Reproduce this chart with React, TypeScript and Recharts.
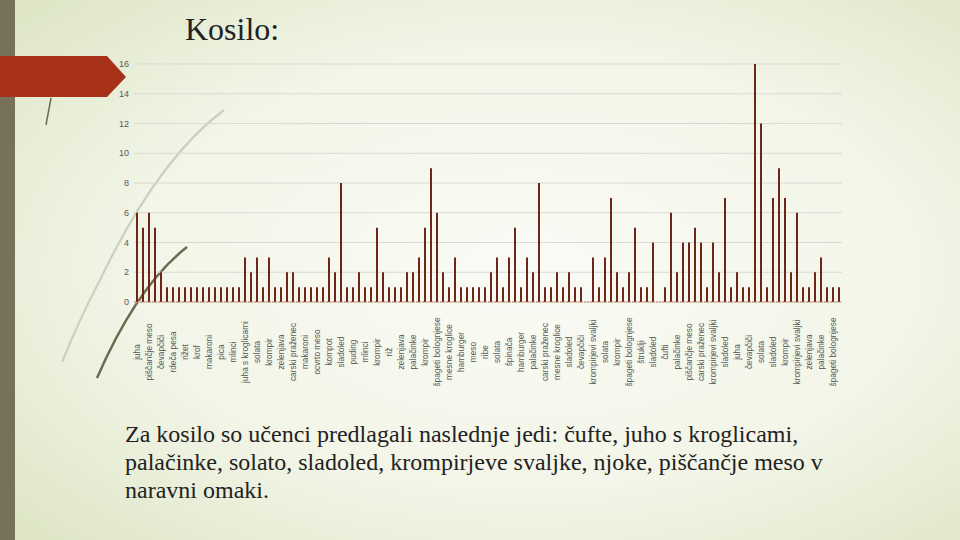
import React from "react";
import { BarChart, Bar, XAxis, YAxis, CartesianGrid } from "recharts";

// Visible category labels (every other category is labelled on the axis)
const shownLabels: string[] = [
  "juha", "piščančje meso", "čevapčiči", "rdeča pesa", "rižet", "krof", "makaroni", "pica",
  "mlinci", "juha s kroglicami", "solata", "krompir", "zelenjava", "carski praženec",
  "makaroni", "ocvrto meso", "kompot", "sladoled", "puding", "mlinci", "krompir", "riž",
  "zelenjava", "palačinke", "krompir", "špageti bolognjese", "mesne kroglice", "hamburger",
  "meso", "ribe", "solata", "špinača", "hamburger", "palačinke", "carski praženec",
  "mesne kroglice", "sladoled", "čevapčiči", "krompirjevi svaljki", "solata", "krompir",
  "špageti bolognjese", "štruklji", "sladoled", "čufti", "palačinke", "piščančje meso",
  "carski praženec", "krompirjevi svaljki", "sladoled", "juha", "čevapčiči", "solata",
  "sladoled", "krompir", "krompirjevi svaljki", "zelenjava", "palačinke", "špageti bolognjese",
];

// Number of votes per category (118 categories)
const votes: number[] = [
  6, 5, 6, 5, 2, 1, 1, 1, 1, 1,
  1, 1, 1, 1, 1, 1, 1, 1, 3, 2,
  3, 1, 3, 1, 1, 2, 2, 1, 1, 1,
  1, 1, 3, 2, 8, 1, 1, 2, 1, 1,
  5, 2, 1, 1, 1, 2, 2, 3, 5, 9,
  6, 2, 1, 3, 1, 1, 1, 1, 1, 2,
  3, 1, 3, 5, 1, 3, 2, 8, 1, 1,
  2, 1, 2, 1, 1, 0, 3, 1, 3, 7,
  2, 1, 2, 5, 1, 1, 4, 0, 1, 6,
  2, 4, 4, 5, 4, 1, 4, 2, 7, 1,
  2, 1, 1, 16, 12, 1, 7, 9, 7, 2,
  6, 1, 1, 2, 3, 1, 1, 1,
];

const yTicks: number[] = [0, 2, 4, 6, 8, 10, 12, 14, 16];

const data = votes.map((v, i) => ({
  name: i % 2 === 0 ? shownLabels[i / 2] ?? "" : "",
  v,
}));

const XTick = (props: any) => {
  const { x, payload } = props;
  if (!payload || !payload.value) return <g />;
  const cy = 352;
  return (
    <text
      x={x}
      y={cy}
      transform={`rotate(-90, ${x}, ${cy})`}
      textAnchor="middle"
      dy="0.35em"
      fontSize={8.3}
      fill="#555"
      fontFamily="Liberation Sans, Arial, sans-serif"
    >
      {payload.value}
    </text>
  );
};

export default function App() {
  return (
    <div
      style={{
        position: "absolute",
        left: 0,
        top: 0,
        width: 960,
        height: 540,
        overflow: "hidden",
      }}
    >
      <svg
        width={960}
        height={540}
        style={{ position: "absolute", left: 0, top: 0 }}
      >
        <defs>
          <radialGradient id="bg" cx="55%" cy="50%" r="75%">
            <stop offset="0%" stopColor="#fbfbf6" />
            <stop offset="55%" stopColor="#f2f5e7" />
            <stop offset="100%" stopColor="#dce4c3" />
          </radialGradient>
        </defs>
        <rect x={0} y={0} width={960} height={540} fill="url(#bg)" />
        <rect x={0} y={0} width={15} height={540} fill="#777159" />
        <path d="M 62 362 Q 80 318 100 280 Q 158 159 224 110" stroke="#cdd0bd" strokeWidth={2.2} fill="none" />
        <path d="M 97 378 Q 137 286 187 247" stroke="#6f6b52" strokeWidth={2.5} fill="none" />
        <path d="M 51 98 L 46 125" stroke="#6f6b52" strokeWidth={1.5} fill="none" />
        <polygon points="0,56 107,56 126,77 107,97 0,97" fill="#a8311a" />
      </svg>

      <div
        style={{
          position: "absolute",
          left: 185,
          top: 9,
          fontFamily: "Liberation Serif, Times New Roman, serif",
          fontSize: 32,
          color: "#222",
          lineHeight: "40px",
          whiteSpace: "nowrap",
        }}
      >
        Kosilo:
      </div>

      <div style={{ position: "absolute", left: 0, top: 0 }}>
        <BarChart
          width={960}
          height={540}
          data={data}
          margin={{ top: 64, right: 118, bottom: 138, left: 104 }}
          barCategoryGap={0}
        >
          <CartesianGrid vertical={false} stroke="#d9d9d6" strokeWidth={1} />
          <XAxis
            dataKey="name"
            interval={0}
            tick={<XTick />}
            tickLine={false}
            axisLine={{ stroke: "#c07a5a", strokeDasharray: "2 1" }}
            height={100}
          />
          <YAxis
            domain={[0, 16]}
            ticks={yTicks}
            axisLine={false}
            tickLine={false}
            tickSize={0}
            tickMargin={5}
            width={30}
            tick={{ fontSize: 9, fill: "#595959", fontFamily: "Liberation Sans, Arial, sans-serif" }}
          />
          <Bar dataKey="v" fill="#6e2616" barSize={2} isAnimationActive={false} />
        </BarChart>
      </div>

      <div
        style={{
          position: "absolute",
          left: 125,
          top: 420,
          fontFamily: "Liberation Serif, Times New Roman, serif",
          fontSize: 24,
          lineHeight: "28px",
          color: "#222",
          whiteSpace: "nowrap",
        }}
      >
        <div>Za kosilo so učenci predlagali naslednje jedi: čufte, juho s kroglicami,</div>
        <div>palačinke, solato, sladoled, krompirjeve svaljke, njoke, piščančje meso v</div>
        <div>naravni omaki.</div>
      </div>
    </div>
  );
}
